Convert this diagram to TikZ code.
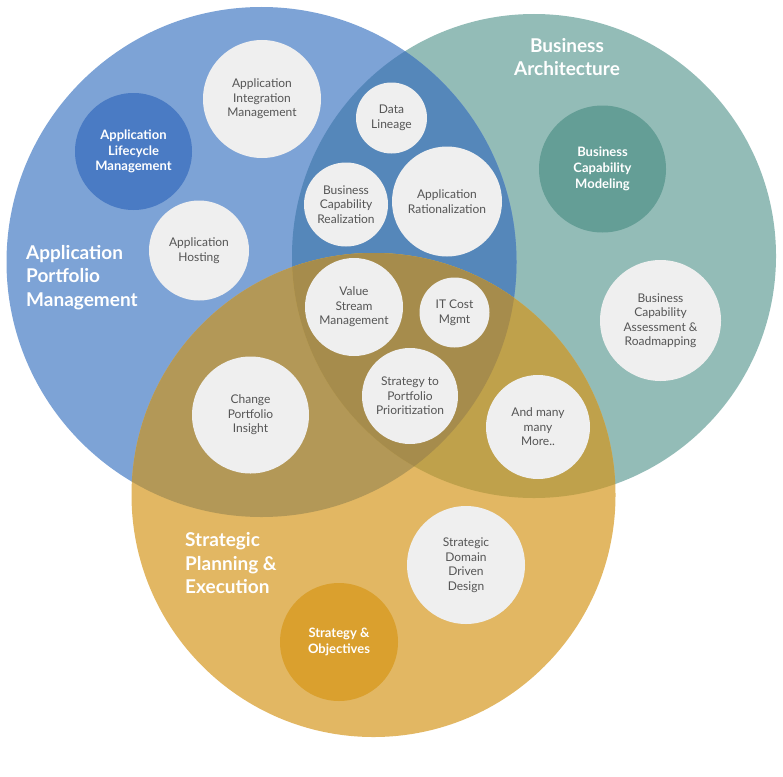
\documentclass[tikz,border=0pt]{standalone}
\usepackage{fontspec}
\setmainfont{Lato}
\definecolor{cblue}{HTML}{7DA3D6}
\definecolor{cgreen}{HTML}{93BCB7}
\definecolor{corange}{HTML}{E2B763}
\definecolor{cbg}{HTML}{5587BA}
\definecolor{cbo}{HTML}{B39857}
\definecolor{cgo}{HTML}{BFA14B}
\definecolor{cbgo}{HTML}{A68C4C}
\definecolor{cbub}{HTML}{EFEFEF}
\definecolor{ctext}{HTML}{555555}
\definecolor{kblue}{HTML}{4A7BC4}
\definecolor{kteal}{HTML}{649E96}
\definecolor{korange}{HTML}{DAA02E}
\begin{document}
\begin{tikzpicture}[x=1pt,y=-1pt,
  bubble/.style={circle, fill=cbub, inner sep=0pt, align=center, text=ctext,
    font=\fontsize{12}{14.5}\selectfont},
  keybubble/.style={bubble, text=white, font=\bfseries\fontsize{13}{15.8}\selectfont},
  biglabel/.style={text=white, inner sep=0pt, font=\bfseries\fontsize{19}{23.5}\selectfont}]
\useasboundingbox (0,0) rectangle (783,776);
\coordinate (cB) at (261.5,262);
\coordinate (cG) at (534,256);
\coordinate (cO) at (373.5,495);
% big circles with overlaps
\fill[cgreen] (cG) circle[radius=242pt];
\fill[cblue] (cB) circle[radius=255pt];
\begin{scope}
  \clip (cB) circle[radius=255pt];
  \fill[cbg] (cG) circle[radius=242pt];
\end{scope}
\fill[corange] (cO) circle[radius=242pt];
\begin{scope}
  \clip (cO) circle[radius=242pt];
  \fill[cbo] (cB) circle[radius=255pt];
  \fill[cgo] (cG) circle[radius=242pt];
  \clip (cB) circle[radius=255pt];
  \fill[cbgo] (cG) circle[radius=242pt];
\end{scope}
% big labels
\node[biglabel, anchor=west, align=left] (apm) at (26,277.5) {Application\\Portfolio\\Management};
\node[biglabel, align=center] (ba) at (567,57) {Business\\Architecture};
\node[biglabel, anchor=west, align=left] (spe) at (185,563.5) {Strategic\\Planning \&\\Execution};
% bubbles
\node[keybubble, fill=kblue, minimum size=117pt] (alm) at (133.5,151.5) {Application\\Lifecycle\\Management};
\node[bubble, minimum size=118pt] (aim) at (262,99) {Application\\Integration\\Management};
\node[bubble, minimum size=100pt] (ah) at (199,250.5) {Application\\Hosting};
\node[bubble, minimum size=71pt] (dl) at (391.5,118) {Data\\Lineage};
\node[bubble, minimum size=84pt] (bcr) at (346,204.5) {Business\\Capability\\Realization};
\node[bubble, minimum size=110pt] (ar) at (447,201.5) {Application\\Rationalization};
\node[keybubble, fill=kteal, minimum size=127pt] (bcm) at (602.5,169) {Business\\Capability\\Modeling};
\node[bubble, minimum size=121pt] (bcar) at (660.5,320.5) {Business\\Capability\\Assessment \&\\Roadmapping};
\node[bubble, minimum size=98pt] (vsm) at (354,307) {Value\\Stream\\Management};
\node[bubble, minimum size=70pt] (itc) at (454.5,312.5) {IT Cost\\Mgmt};
\node[bubble, minimum size=96pt] (spp) at (410,396) {Strategy to\\Portfolio\\Prioritization};
\node[bubble, minimum size=117pt] (cpi) at (250.5,415) {Change\\Portfolio\\Insight};
\node[bubble, minimum size=104pt] (amm) at (538,427) {And many\\many\\More..};
\node[bubble, minimum size=118pt] (sddd) at (466,565) {Strategic\\Domain\\Driven\\Design};
\node[keybubble, fill=korange, minimum size=118pt] (so) at (339,642) {Strategy \&\\Objectives};
\end{tikzpicture}
\end{document}
